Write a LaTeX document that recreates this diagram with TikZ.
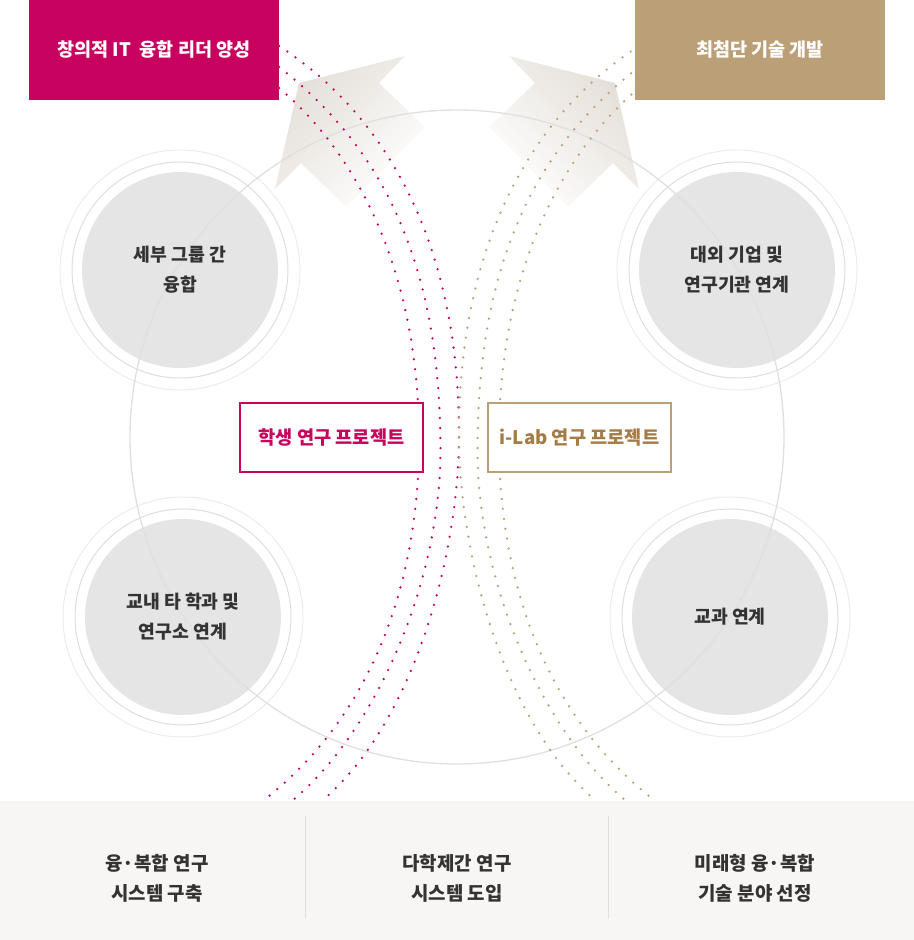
\documentclass[tikz,border=0pt]{standalone}
\usepackage{fontspec}
\setmainfont{Noto Sans CJK KR}
\usetikzlibrary{positioning}
\usetikzlibrary{calc}
\definecolor{pinkmain}{RGB}{200,3,95}
\definecolor{goldmain}{RGB}{187,160,119}
\definecolor{goldtext}{RGB}{166,124,70}
\definecolor{golddot}{RGB}{188,160,118}
\definecolor{darktext}{RGB}{51,51,51}
\definecolor{circlefill}{RGB}{229,229,229}
\definecolor{ringgray}{RGB}{222,222,222}
\definecolor{outerringgray}{RGB}{236,236,236}
\definecolor{biggray}{RGB}{224,224,224}
\definecolor{panelfill}{RGB}{247,246,244}
\definecolor{panelsep}{RGB}{224,224,224}
\definecolor{arrowtone}{RGB}{227,222,215}
\tikzstyle{topbox}=[rectangle,minimum width=187.5pt,minimum height=75pt,inner sep=0pt,text=white,font=\fontsize{13.9}{16}\selectfont\bfseries]
\tikzstyle{projbox}=[rectangle,draw,line width=1.5pt,fill=white,minimum width=137.25pt,minimum height=51.75pt,inner sep=0pt,font=\fontsize{14}{17}\selectfont\bfseries]
\tikzstyle{groupcircle}=[circle,fill=circlefill,minimum size=147pt,inner sep=0pt]
\tikzstyle{grouptext}=[align=center,text=darktext,font=\fontsize{13.7}{22.5}\selectfont\bfseries]
\tikzstyle{ring}=[draw=ringgray,line width=0.75pt]
\tikzstyle{outerring}=[draw=outerringgray,line width=0.75pt]
\tikzstyle{bigring}=[draw=biggray,line width=1pt]
\tikzstyle{pinkdots}=[draw=pinkmain,line width=1.9pt,line cap=round,dash pattern=on 0pt off 7.5pt]
\tikzstyle{golddots}=[draw=golddot,line width=1.9pt,line cap=round,dash pattern=on 0pt off 7.5pt]
\tikzstyle{arrowshade}=[top color=arrowtone,middle color=arrowtone!85!white,bottom color=white]
\tikzstyle{paneltext}=[align=center,text=darktext,font=\fontsize{14.2}{22.5}\selectfont\bfseries]
\begin{document}
\begin{tikzpicture}[x=0.75pt,y=-0.75pt]
    \useasboundingbox (0,0) rectangle (914,940);

    % Big arrows behind everything
    \shade[arrowshade,shading angle=45] (299,83) -- (405,56) -- (379,83) -- (425,127) -- (346,207) -- (301,163) -- (275,189) -- cycle;
    \shade[arrowshade,shading angle=-45] (615,83) -- (509,56) -- (535,83) -- (489,127) -- (568,207) -- (613,163) -- (639,189) -- cycle;

    % The four groups with their rings
    \foreach \pos/\name in {(180,270)/group, (737,270)/industry, (183,617)/campus, (730,617)/course}
    {
        \node[groupcircle] (\name) at \pos {};
        \draw[ring] (\name.center) circle[radius=81pt];
        \draw[outerring] (\name.center) circle[radius=90pt];
    }

    % Big circle through the groups
    \draw[bigring] (457,437) circle[radius=245.25pt];

    % Group labels over the big circle
    \foreach \name/\txt in {group/{세부 그룹 간\\융합}, industry/{대외 기업 및\\연구기관 연계}, campus/{교내 타 학과 및\\연구소 연계}, course/{교과 연계}}
        \node[grouptext] (\name-label) at (\name.center) {\txt};

    % Dotted paths, pink side
    \path[pinkdots] (279,46) .. controls (380,111) and (459,235) .. (459,435) .. controls (459,555) and (414,722) .. (323,800);
    \path[pinkdots] (279,67) .. controls (373.6,140.9) and (440.5,250) .. (440.5,450) .. controls (440.5,580) and (377.3,729.3) .. (293,800);
    \path[pinkdots] (279,88) .. controls (355.6,152.3) and (419,270) .. (419,440) .. controls (419,580) and (374.3,713.8) .. (264,800);
    % Dotted paths, gold side
    \path[golddots] (639,46) .. controls (538,111) and (459,235) .. (459,435) .. controls (459,555) and (504,722) .. (595,800);
    \path[golddots] (639,67) .. controls (544.4,140.9) and (477.5,250) .. (477.5,450) .. controls (477.5,580) and (540.7,729.3) .. (625,800);
    \path[golddots] (639,88) .. controls (562.4,152.3) and (499,270) .. (499,440) .. controls (499,580) and (543.7,713.8) .. (654,800);

    % Project boxes
    \node[projbox,draw=pinkmain,text=pinkmain] (student) at (331.5,437.5) {학생 연구 프로젝트};
    \node[projbox,draw=goldmain,text=goldtext] (ilab) at (579.5,437.5) {i-Lab 연구 프로젝트};

    % Goals on top
    \node[topbox,fill=pinkmain] (leader) at (154,50) {창의적 IT\ \ 융합 리더 양성};
    \node[topbox,fill=goldmain] (tech) at (760,50) {최첨단 기술 개발};

    % Bottom panel
    \fill[panelfill] (0,801) rectangle (914,940);
    \draw[panelsep] (305,816) -- (305,919);
    \draw[panelsep] (608,816) -- (608,919);
    \foreach \pos/\name/\txt in {{(157,878)/system/{융·복합 연구\\시스템 구축}}, {(457,878)/multi/{다학제간 연구\\시스템 도입}}, {(755,878)/future/{미래형 융·복합\\기술 분야 선정}}}
        \node[paneltext] (\name) at \pos {\txt};

\end{tikzpicture}
\end{document}
